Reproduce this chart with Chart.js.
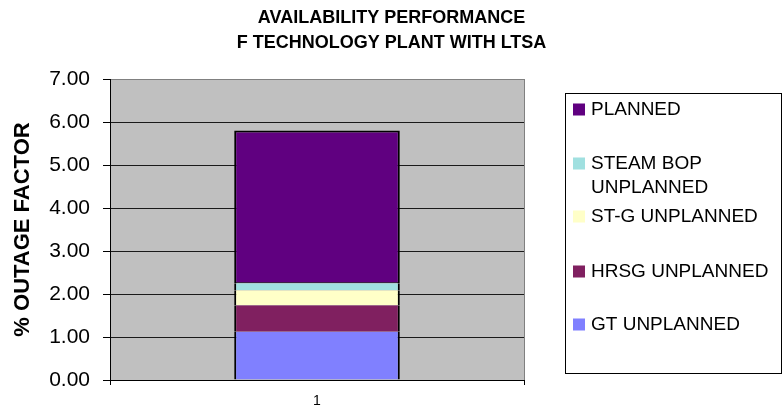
<!DOCTYPE html>
<html>
<head>
<meta charset="utf-8">
<script src="https://cdn.jsdelivr.net/npm/chart.js@4/dist/chart.umd.min.js"></script>
<style>
  body { margin: 0; background: #fff; }
  canvas { display: block; }
</style>
</head>
<body>
<canvas id="availChart" width="783" height="412"></canvas>
<script>
const categories = ['1'];
const titleLines = ['AVAILABILITY PERFORMANCE', 'F TECHNOLOGY PLANT WITH LTSA'];
const yTicks = [0, 1, 2, 3, 4, 5, 6, 7];

// stacked from the bottom up
const gtUnplanned = [1.12];
const hrsgUnplanned = [0.62];
const stgUnplanned = [0.35];
const steamBopUnplanned = [0.16];
const planned = [3.55];

const FONT = '"Liberation Sans", Arial, sans-serif';

// legend rows (first text line), top to bottom
const legendRowY = [109.5, 163.5, 216.5, 271.5, 324.5];

const excelFrame = {
    id: 'excelFrame',
    beforeDraw(chart) {
        const { ctx, chartArea: a } = chart;
        ctx.save();
        ctx.fillStyle = '#ffffff';
        ctx.fillRect(0, 0, chart.width, chart.height);
        ctx.fillStyle = '#c0c0c0';
        ctx.fillRect(a.left, a.top, a.right - a.left, a.bottom - a.top);
        ctx.restore();
    },
    afterDraw(chart) {
        const ctx = chart.ctx;
        ctx.save();

        // title
        ctx.fillStyle = '#000';
        ctx.font = 'bold 18px ' + FONT;
        ctx.textAlign = 'center';
        ctx.textBaseline = 'middle';
        titleLines.forEach((t, i) => ctx.fillText(t, chart.width / 2, 18.5 + i * 25));

        // legend box
        ctx.fillStyle = '#fff';
        ctx.fillRect(565, 93, 216, 280);
        ctx.strokeStyle = '#000';
        ctx.lineWidth = 1;
        ctx.strokeRect(565.5, 93.5, 216, 280);

        ctx.font = '19px ' + FONT;
        ctx.textAlign = 'left';
        const items = chart.data.datasets.slice().reverse();
        items.forEach((ds, i) => {
            const y = legendRowY[i];
            ctx.fillStyle = ds.backgroundColor;
            ctx.fillRect(573, y - 6, 12, 12);

            // simple word wrap
            const words = ds.label.split(' ');
            const lines = [];
            let line = '';
            words.forEach(w => {
                const test = line ? line + ' ' + w : w;
                if (line && ctx.measureText(test).width > 185) {
                    lines.push(line);
                    line = w;
                } else {
                    line = test;
                }
            });
            lines.push(line);

            ctx.fillStyle = '#000';
            lines.forEach((l, j) => ctx.fillText(l, 591, y + j * 24));
        });
        ctx.restore();
    }
};

const sideBorder = { left: 2, right: 2, top: 0, bottom: 0 };

new Chart(document.getElementById('availChart'), {
    type: 'bar',
    data: {
        labels: categories,
        datasets: [
            { label: 'GT UNPLANNED', data: gtUnplanned, backgroundColor: '#8080ff', borderWidth: sideBorder },
            { label: 'HRSG UNPLANNED', data: hrsgUnplanned, backgroundColor: '#802060', borderWidth: sideBorder },
            { label: 'ST-G UNPLANNED', data: stgUnplanned, backgroundColor: '#ffffc8', borderWidth: sideBorder },
            { label: 'STEAM BOP UNPLANNED', data: steamBopUnplanned, backgroundColor: '#a0e0e0', borderWidth: sideBorder },
            { label: 'PLANNED', data: planned, backgroundColor: '#600080', borderWidth: { left: 2, right: 2, top: 2, bottom: 1 } }
        ]
    },
    options: {
        responsive: false,
        animation: false,
        devicePixelRatio: 1,
        layout: { padding: { top: 79, right: 259, left: 0, bottom: 0 } },
        datasets: {
            bar: {
                borderColor: '#000',
                borderSkipped: false,
                barPercentage: 0.4,
                categoryPercentage: 1
            }
        },
        plugins: {
            legend: { display: false },
            title: { display: false },
            tooltip: { enabled: false }
        },
        scales: {
            x: {
                stacked: true,
                offset: true,
                grid: {
                    offset: true,
                    color: c => c.index === 0 ? '#000' : '#808080',
                    tickColor: '#000',
                    tickLength: 5
                },
                border: { color: '#000' },
                ticks: { color: '#000', font: { family: FONT, size: 14 }, padding: 8 },
                afterFit: s => { s.height = 32; }
            },
            y: {
                stacked: true,
                min: yTicks[0],
                max: yTicks[yTicks.length - 1],
                afterBuildTicks: s => { s.ticks = yTicks.map(v => ({ value: v })); },
                ticks: {
                    color: '#000',
                    font: { family: FONT, size: 21 },
                    padding: 13,
                    callback: v => Number(v).toFixed(2)
                },
                grid: {
                    color: c => c.tick && c.tick.value === 7 ? '#808080' : '#1a1a1a',
                    tickColor: '#000',
                    tickLength: 7
                },
                border: { color: '#000' },
                title: {
                    display: true,
                    text: '% OUTAGE FACTOR',
                    color: '#000',
                    font: { family: FONT, size: 22, weight: 'bold' },
                    padding: { top: 10, bottom: 0 }
                },
                afterFit: s => { s.width = 110; }
            }
        }
    },
    plugins: [excelFrame]
});
</script>
</body>
</html>
